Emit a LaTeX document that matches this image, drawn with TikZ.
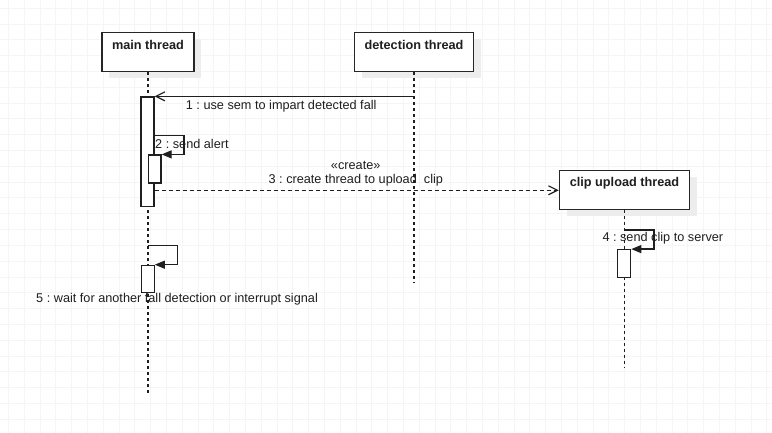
\documentclass[tikz,border=0pt]{standalone}
\usepackage{fontspec}
\setmainfont{Liberation Sans}
\usetikzlibrary{arrows.meta,shadows}
\frenchspacing
\begin{document}
\begin{tikzpicture}[x=1pt,y=-1pt,
  every node/.style={font=\fontsize{12.7}{15}\selectfont, text=black!88, inner sep=0pt},
  gridline/.style={draw=black!4, line width=0.8pt},
  lane/.style={draw=black!85, line width=1.4pt, fill=white, minimum height=39pt,
    general shadow={fill=black!7, shadow xshift=7pt, shadow yshift=-6pt}},
  lanetitle/.style={font=\fontsize{12.7}{15}\selectfont\bfseries},
  life/.style={draw=black!88, line width=1.2pt, dash pattern=on 3pt off 3pt},
  actbar/.style={draw=black!88, line width=1.2pt, fill=white, minimum width=13pt},
  msg/.style={draw=black!88, line width=1.2pt},
  openhead/.style={-{Straight Barb[length=9pt,width=9pt]}},
  selfhead/.style={-{Triangle[length=10pt,width=8pt]}},
]
\useasboundingbox[fill=white] (0,0) rectangle (772,433);
% grid
\foreach \i in {0,...,48} \draw[gridline] ({8.3+15.8*\i},0) -- ({8.3+15.8*\i},433);
\foreach \j in {0,...,27} \draw[gridline] (0,{8.3+15.8*\j}) -- (772,{8.3+15.8*\j});

% lifeline heads
\node[lane, minimum width=92pt] (main) at (148,52.2) {};
\node[lanetitle] (mainT) at (148,45) {main thread};
\node[lane, minimum width=119pt] (det) at (414,52.2) {};
\node[lanetitle] (detT) at (414,45) {detection thread};
\node[lane, minimum width=130pt] (clip) at (624.5,190.3) {};
\node[lanetitle] (clipT) at (624.5,183.3) {clip upload thread};

% lifeline ends
\coordinate (mainEnd) at (148,395);
\coordinate (detEnd) at (414,283);
\coordinate (clipEnd) at (624.5,367);
\draw[life] (main.south) -- (mainEnd);
\draw[life] (det.south) -- (detEnd);
\draw[life] (clip.south) -- (clipEnd);

% activation bars
\node[actbar, minimum height=109.7pt] (a1) at (147.5,151.8) {};
\node[actbar, minimum width=12.7pt, minimum height=28pt] (a2) at (154.7,169) {};
\node[actbar, minimum height=27.6pt] (a4) at (624.2,263.5) {};
\node[actbar, minimum height=27.4pt] (a5) at (147.7,279) {};

% message 1
\draw[msg, openhead] (det.south |- a1.north east) -- (a1.north east);
\node[anchor=west] (l1) at (185.7,106.7) {1 : use sem to impart detected fall};

% message 2 (self)
\coordinate (s2) at (154,135.7);
\coordinate (t2) at (184,135.7);
\draw[msg, selfhead] (s2) -- (t2) |- (a2.north east);
\node[anchor=west] (l2) at (155,144) {2 : send alert};

% message 3 (create)
\draw[msg, dash pattern=on 4pt off 3pt, openhead] (a1.east |- clip.west) -- (clip.west);
\node (l3a) at (355.7,165.7) {«create»};
\node (l3b) at (355.8,180.7) {3 : create thread to upload\ \ clip};

% message 4 (self)
\coordinate (s4) at (624.5,230);
\coordinate (t4) at (654,230);
\draw[msg, selfhead] (s4) -- (t4) |- (a4.north east);
\node[anchor=west] (l4) at (602.3,238.3) {4 : send clip to server};

% message 5 (self)
\coordinate (s5) at (148,245.7);
\coordinate (t5) at (177.7,245.7);
\draw[msg, selfhead] (s5) -- (t5) |- (a5.north east);
\node[anchor=west] (l5) at (36,299) {5 : wait for another fall detection or interrupt signal};
\end{tikzpicture}
\end{document}
